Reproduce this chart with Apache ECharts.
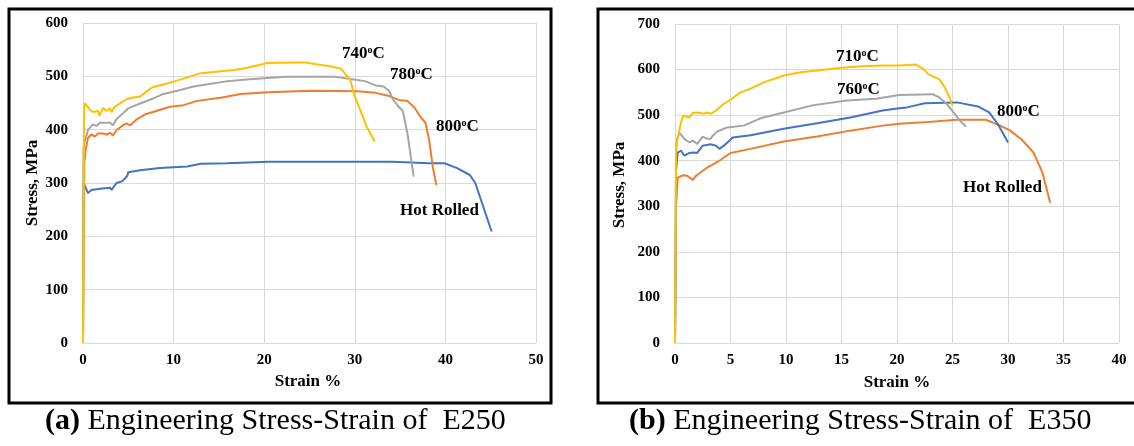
<!DOCTYPE html>
<html>
<head>
<meta charset="utf-8">
<script src="https://cdn.jsdelivr.net/npm/echarts@6/dist/echarts.min.js"></script>
<style>
html,body{margin:0;padding:0;background:#fff;}
#c{width:1134px;height:446px;}
</style>
</head>
<body>
<div id="c"></div>
<script>
// ---------- Panel (a) E250 : [strain %, stress MPa] ----------
const e250HotRolled = [[0,0],[0.05,300],[0.07,303],[0.3,291],[0.56,281],[0.93,287],[1.1,284],[1.85,289],[3,291],[3.15,287],[3.7,300],[4.3,303],[4.6,308],[4.9,314],[5,320],[6.3,324],[8.5,328],[11.5,331],[13,336],[15.9,337],[20.4,340],[25.2,340],[34.2,340],[38.2,337],[39.9,337],[41.3,328],[42.7,315],[43.3,300],[45.1,209]];
const e250T800 = [[0,0],[0.15,340],[0.19,344],[0.3,363],[0.56,385],[0.93,391],[1.3,387],[1.67,393],[2.2,393],[2.6,391],[3,394],[3.3,389],[3.7,399],[4.4,408],[4.8,412],[5.2,408],[5.9,419],[6.9,429],[8.1,435],[9.6,443],[11.1,446],[12.6,454],[15.2,460],[17.4,467],[20.4,470],[25.2,473],[30.3,472],[32.3,469],[33.8,463],[35,455],[35.8,454],[36.6,441],[37.2,425],[37.8,413],[38.2,381],[38.6,331],[39,296]];
const e250T780 = [[0,0],[0.05,360],[0.1,372],[0.56,400],[1.1,410],[1.5,407],[1.85,413],[3,413],[3.3,408],[3.7,420],[4.3,429],[5,440],[6.3,449],[7.8,459],[8.9,467],[10.4,473],[12.2,481],[14.1,486],[16,491],[18,494],[20.4,497],[22.4,499],[25,499],[27.9,499],[29.9,494],[31.1,491],[32.3,483],[33.2,481],[33.8,472],[34.2,457],[34.8,444],[35.3,435],[35.8,394],[36.5,312]];
const e250T740 = [[0,0],[0.1,420],[0.19,450],[0.74,438],[1.1,433],[1.67,435],[1.8,426],[2.2,441],[2.6,435],[3,440],[3.15,433],[3.5,443],[4.8,457],[5.4,460],[6.3,462],[7.6,479],[10,490],[13,506],[16.7,512],[18.1,516],[20.4,525],[23.3,526],[24.5,526],[27.6,518],[28.5,514],[29.5,493],[30,462],[30.6,437],[31.3,406],[32.2,378]];

// ---------- Panel (b) E350 ----------
const e350HotRolled = [[0,0],[0.1,300],[0.24,363],[0.7,368],[1.1,367],[1.6,358],[1.9,367],[2.3,374],[2.9,385],[3.5,393],[4,400],[4.4,407],[5,417],[6.8,426],[9.8,442],[12.8,453],[15.8,466],[18.7,477],[20.2,481],[22.8,485],[25.4,490],[28,490],[29.3,477],[30.2,466],[31.2,447],[32.3,418],[33.1,374],[33.8,308]];
const e350T800 = [[0,0],[0.1,380],[0.24,418],[0.54,422],[0.84,411],[1.3,417],[1.7,418],[2,417],[2.5,433],[3.2,436],[3.7,433],[4,426],[4.4,433],[4.9,444],[5.2,451],[6.8,456],[9.8,470],[12.8,482],[15.8,495],[18.7,510],[20.2,515],[20.9,517],[22.5,526],[25.4,528],[27.3,519],[28.3,506],[29.1,480],[30,440]];
const e350T760 = [[0,0],[0.1,420],[0.18,448],[0.4,461],[0.84,448],[1.3,440],[1.6,444],[2,437],[2.5,453],[2.9,448],[3.2,448],[3.4,455],[3.8,464],[4.7,473],[6.2,477],[7.7,493],[9.8,506],[12.5,522],[15.5,532],[18.1,536],[20.2,544],[23.2,546],[23.8,539],[24.5,524],[25.1,506],[25.7,487],[26.2,475]];
const e350T710 = [[0,0],[0.09,433],[0.3,455],[0.54,484],[0.75,499],[1,497],[1.3,495],[1.6,505],[2,506],[2.6,503],[2.9,506],[3.2,503],[3.7,510],[4.4,525],[4.9,532],[5,528],[5.9,550],[6.8,558],[8,572],[9.8,587],[11.3,594],[12.8,598],[14.6,603],[16.4,607],[18.7,609],[20.2,609],[21.7,611],[22.4,601],[22.8,590],[23.8,579],[24.3,561],[24.8,535],[25,520]];

// axis ranges
const axisA = {xMax: 50, xStep: 10, yMax: 600, yStep: 100};
const axisB = {xMax: 40, xStep: 5, yMax: 700, yStep: 100};

// texts
const xTitle = 'Strain %';
const yTitle = 'Stress, MPa';
const labelsA = ['740', '780', '800'];
const labelsB = ['710', '760', '800'];
const hotRolledLabel = 'Hot Rolled';
const captionA = ['(a)', 'Engineering Stress-Strain of  E250'];
const captionB = ['(b)', 'Engineering Stress-Strain of  E350'];

const FONT = '"Liberation Serif", "Times New Roman", serif';
const C_BLUE = '#4472C4', C_ORANGE = '#ED7D31', C_GRAY = '#A5A5A5', C_YELLOW = '#FFC000';

function xAx(gi, a) {
  return {
    type: 'value', gridIndex: gi, min: 0, max: a.xMax, interval: a.xStep,
    axisLine: {show: false}, axisTick: {show: false},
    splitLine: {show: true, lineStyle: {color: '#d9d9d9', width: 1}},
    axisLabel: {fontFamily: FONT, fontWeight: 'bold', fontSize: 15, color: '#000', margin: 10}
  };
}
function yAx(gi, a) {
  return {
    type: 'value', gridIndex: gi, min: 0, max: a.yMax, interval: a.yStep,
    axisLine: {show: false}, axisTick: {show: false},
    splitLine: {show: true, lineStyle: {color: '#d9d9d9', width: 1}},
    axisLabel: {fontFamily: FONT, fontWeight: 'bold', fontSize: 15, color: '#000', margin: 15}
  };
}
function ser(idx, data, color, z) {
  return {
    type: 'line', xAxisIndex: idx, yAxisIndex: idx, data: data,
    showSymbol: false, symbol: 'none', z: z,
    lineStyle: {color: color, width: 2}, itemStyle: {color: color}
  };
}
function txt(x, y, text, opts) {
  return {
    type: 'text', x: x, y: y, z: 100, rotation: (opts && opts.rot) || 0,
    style: Object.assign({
      text: text, fontFamily: FONT, fontWeight: 'bold', fontSize: 17, fill: '#000',
      align: 'left', verticalAlign: 'middle'
    }, (opts && opts.style) || {})
  };
}
function degLabel(x, y, num) {
  return {
    type: 'text', x: x, y: y, z: 100,
    style: {
      text: num + '{s|o}C', fontFamily: FONT, fontWeight: 'bold', fontSize: 17, fill: '#000',
      align: 'left', verticalAlign: 'middle',
      rich: {s: {fontFamily: FONT, fontWeight: 'bold', fontSize: 10, fill: '#000', verticalAlign: 'top', lineHeight: 17}}
    }
  };
}
function caption(x, y, parts) {
  return {
    type: 'text', x: x, y: y, z: 100,
    style: {
      text: '{b|' + parts[0] + '} {r|' + parts[1] + '}',
      fontFamily: FONT, fontSize: 30, fill: '#000', align: 'left', verticalAlign: 'middle',
      rich: {
        b: {fontFamily: FONT, fontSize: 30, fontWeight: 'bold', fill: '#000'},
        r: {fontFamily: FONT, fontSize: 30, fontWeight: 'normal', fill: '#000'}
      }
    }
  };
}

const chart = echarts.init(document.getElementById('c'), null, {renderer: 'canvas'});
chart.setOption({
  animation: false,
  backgroundColor: '#fff',
  grid: [
    {left: 83, top: 23, width: 453, height: 320},
    {left: 675, top: 24, width: 444, height: 319}
  ],
  xAxis: [xAx(0, axisA), xAx(1, axisB)],
  yAxis: [yAx(0, axisA), yAx(1, axisB)],
  series: [
    ser(0, e250HotRolled, C_BLUE, 2),
    ser(0, e250T800, C_ORANGE, 3),
    ser(0, e250T780, C_GRAY, 4),
    ser(0, e250T740, C_YELLOW, 5),
    ser(1, e350HotRolled, C_ORANGE, 2),
    ser(1, e350T800, C_BLUE, 3),
    ser(1, e350T760, C_GRAY, 4),
    ser(1, e350T710, C_YELLOW, 5)
  ],
  graphic: [
    {type: 'rect', z: 90, shape: {x: 9, y: 9, width: 542, height: 394}, style: {fill: 'none', stroke: '#000', lineWidth: 3}},
    {type: 'rect', z: 90, shape: {x: 598, y: 9, width: 560, height: 394}, style: {fill: 'none', stroke: '#000', lineWidth: 3}},
    txt(308, 382, xTitle, {style: {align: 'center'}}),
    txt(897, 383, xTitle, {style: {align: 'center'}}),
    txt(33, 183, yTitle, {rot: Math.PI / 2, style: {align: 'center'}}),
    txt(620, 185, yTitle, {rot: Math.PI / 2, style: {align: 'center'}}),
    degLabel(342, 54, labelsA[0]),
    degLabel(390, 75, labelsA[1]),
    degLabel(436, 127, labelsA[2]),
    txt(400, 211, hotRolledLabel),
    degLabel(836, 57, labelsB[0]),
    degLabel(837, 90, labelsB[1]),
    degLabel(997, 112, labelsB[2]),
    txt(963, 188, hotRolledLabel),
    caption(45, 421, captionA),
    caption(629, 421, captionB)
  ]
});
</script>
</body>
</html>
